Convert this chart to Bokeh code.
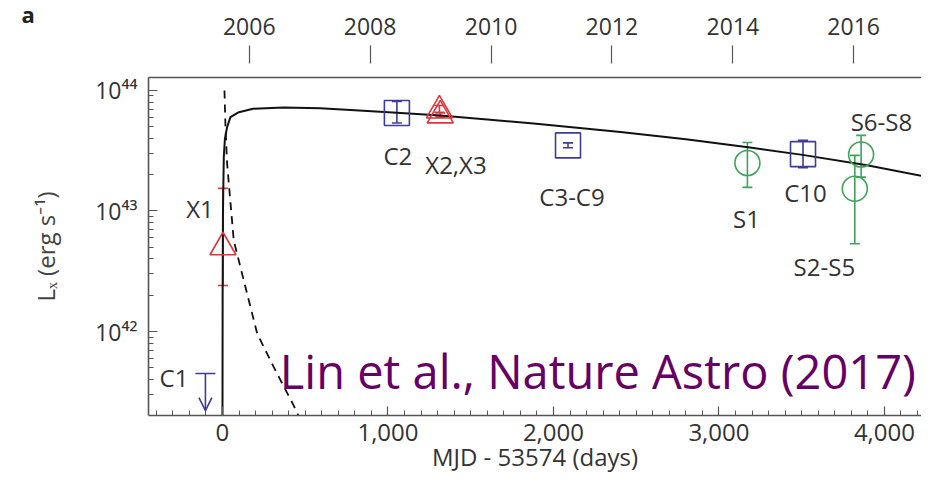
import math
from bokeh.plotting import figure
from bokeh.models import (Range1d, FixedTicker, LinearAxis, Whisker, TeeHead,
                          Arrow, OpenHead, Label, ColumnDataSource, Title)
from bokeh.core.properties import value
from bokeh.embed import file_html
from bokeh.resources import INLINE

# ---------------- data (days = MJD - 53574, Lx in erg/s) ----------------
model_days = [0, 1, 3, 8, 15, 28, 48, 99, 185, 370, 590, 800, 1054, 1317, 1600, 1880,
              2405, 2800, 3176, 3505, 3895, 4330]
model_lx = [1.6e41, 2.0e42, 1.0e43, 2.8e43, 4.0e43, 4.95e43, 6.0e43, 6.6e43, 7.05e43,
            7.21e43, 7.10e43, 6.85e43, 6.53e43, 6.19e43, 5.75e43, 5.31e43, 4.52e43,
            3.94e43, 3.37e43, 2.92e43, 2.39e43, 1.83e43]

tde_days = [12, 18, 28, 68, 139, 210, 310, 429, 459]
tde_lx = [1.0e44, 5.1e43, 2.48e43, 5.7e42, 2.33e42, 9.6e41, 5.06e41, 2.45e41, 2.0e41]

chandra_days = [1054, 2088, 3508]
chandra_lx = [6.5e43, 3.50e43, 2.96e43]
chandra_lo = [5.37e43, 3.35e43, 2.29e43]
chandra_hi = [8.11e43, 3.67e43, 3.85e43]

xmm_days = [3, 1311, 1316]
xmm_lx = [5.0e42, 6.82e43, 6.21e43]
xmm_lo = [2.41e42, 6.6e43, 6.0e43]
xmm_hi = [1.54e43, 7.5e43, 6.5e43]

swift_days = [3172, 3821, 3859]
swift_lx = [2.50e43, 1.53e43, 2.94e43]
swift_lo = [1.57e43, 5.35e42, 1.91e43]
swift_hi = [3.70e43, 2.89e43, 4.24e43]

c1_day = -103
c1_upper_limit = 4.48e41
c1_arrow_end = 2.21e41

point_labels = ["C1", "X1", "C2", "X2,X3", "C3-C9", "S1", "C10", "S2-S5", "S6-S8"]
label_days = [-293, -136, 1060, 1411, 2112, 3166, 3523, 3637, 3982]
label_lx = [4.15e41, 1.04e43, 2.88e43, 2.45e43, 1.32e43, 8.6e42, 1.41e43, 3.46e42, 5.53e43]

x_ticks = [0, 1000, 2000, 3000, 4000]
x_tick_labels = ["0", "1,000", "2,000", "3,000", "4,000"]
y_ticks = [1e42, 1e43, 1e44]
y_tick_labels = ["10\u2074\u00b2", "10\u2074\u00b3", "10\u2074\u2074"]
year_days = [162, 892, 1623, 2353, 3084, 3814]
year_labels = ["2006", "2008", "2010", "2012", "2014", "2016"]

# ---------------- styling ----------------
BLUE = "#3d3d99"
RED = "#e0353d"
GREEN = "#3ea35b"
INK = "#333333"
AXIS = "#555555"
PURPLE = "#660066"
FONT = "Open Sans"

p = figure(width=921, height=485, output_backend="svg", toolbar_location=None,
           y_axis_type="log",
           x_range=Range1d(-447, 4224), y_range=Range1d(2.01e41, 1.28e44),
           min_border_left=148, min_border_right=0, min_border_top=77,
           min_border_bottom=70)
p.outline_line_color = None
p.grid.visible = False
p.background_fill_color = "white"
p.border_fill_color = "white"

# panel letter as the plot title (shifted into the corner)
p.title = Title(text="a", align="left", offset=-127, standoff=-29, vertical_align="bottom",
                text_font=FONT, text_font_style="bold", text_font_size="22px",
                text_color="#222222")

# bottom axis
xa = p.xaxis[0]
xa.ticker = FixedTicker(ticks=x_ticks, minor_ticks=list(range(-400, 4300, 100)))
xa.major_label_overrides = {t: l for t, l in zip(x_ticks, x_tick_labels)}
xa.axis_label = "MJD - 53574 (days)"
xa.axis_label_standoff = -4
xa.axis_label_text_font = FONT
xa.axis_label_text_font_style = "normal"
xa.axis_label_text_font_size = "24px"
xa.axis_label_text_color = INK
# left axis
ya = p.yaxis[0]
ya.ticker = FixedTicker(ticks=y_ticks,
                        minor_ticks=[k * 10.0 ** e for e in (41, 42, 43) for k in range(2, 10)])
ya.major_label_overrides = {t: l for t, l in zip(y_ticks, y_tick_labels)}
ya.axis_label = "L\u2093 (erg s\u207b\u00b9)"
ya.axis_label_standoff = 30
ya.axis_label_text_font = FONT
ya.axis_label_text_font_style = "normal"
ya.axis_label_text_font_size = "24px"
ya.axis_label_text_color = "#444444"

for ax in (xa, ya):
    ax.axis_line_color = AXIS
    ax.axis_line_width = 1.6
    ax.major_tick_line_color = AXIS
    ax.minor_tick_line_color = AXIS
    ax.major_tick_line_width = 1.2
    ax.minor_tick_line_width = 1.0
    ax.major_tick_in = 9
    ax.major_tick_out = 0
    ax.minor_tick_in = 5
    ax.minor_tick_out = 0
    ax.major_label_text_font = FONT
    ax.major_label_text_color = INK
xa.major_label_text_font_size = "24px"
xa.major_label_standoff = 8
ya.major_label_text_font_size = "23px"
ya.major_label_standoff = 11

# top (calendar year) axis
top = LinearAxis(ticker=FixedTicker(ticks=year_days, minor_ticks=[]))
top.major_label_overrides = {t: l for t, l in zip(year_days, year_labels)}
top.axis_line_color = AXIS
top.axis_line_width = 1.6
top.major_tick_line_color = AXIS
top.major_tick_line_width = 1.2
top.major_tick_in = -14
top.major_tick_out = 32
top.minor_tick_line_color = None
top.major_label_standoff = 11
top.major_label_text_font = FONT
top.major_label_text_font_size = "23px"
top.major_label_text_color = INK
p.add_layout(top, "above")

# model curves
p.line(model_days, model_lx, line_color="#111111", line_width=2)
p.line(tde_days, tde_lx, line_color="#111111", line_width=1.8, line_dash="8 6")


def errbars(days, lo, hi, color):
    src = ColumnDataSource(dict(x=days, lo=lo, hi=hi))
    w = Whisker(source=src, base="x", lower="lo", upper="hi", dimension="height",
                line_color=color, line_width=1.6,
                upper_head=TeeHead(size=10, line_color=color, line_width=1.6),
                lower_head=TeeHead(size=10, line_color=color, line_width=1.6))
    p.add_layout(w)


errbars(chandra_days, chandra_lo, chandra_hi, BLUE)
errbars(xmm_days, xmm_lo, xmm_hi, RED)
errbars(swift_days, swift_lo, swift_hi, GREEN)

p.scatter(chandra_days, chandra_lx, marker="square", size=25, fill_color=None,
          line_color=BLUE, line_width=1.6)
p.scatter(xmm_days, xmm_lx, marker="triangle", size=26, fill_color=None,
          line_color=RED, line_width=1.6)
p.scatter(swift_days, swift_lx, marker="circle", size=25, fill_color=None,
          line_color=GREEN, line_width=1.6)

# C1 upper limit
p.add_layout(Arrow(x_start=c1_day, y_start=c1_upper_limit, x_end=c1_day, y_end=c1_arrow_end,
                   line_color=BLUE, line_width=1.6,
                   start=TeeHead(size=20, line_color=BLUE, line_width=1.6),
                   end=OpenHead(size=13, line_color=BLUE, line_width=1.6)))

# point labels
p.text(x=label_days, y=label_lx, text=point_labels, text_font=value(FONT),
       text_font_size="24px", text_color=INK, text_align="center",
       text_baseline="middle")

# citation
p.add_layout(Label(x=346, y=4.74e41, text="Lin et al., Nature Astro (2017)", text_font=FONT,
                   text_font_size="47px", text_color=PURPLE, text_align="left",
                   text_baseline="alphabetic"))

open("out.html", "w").write(file_html(p, INLINE))
